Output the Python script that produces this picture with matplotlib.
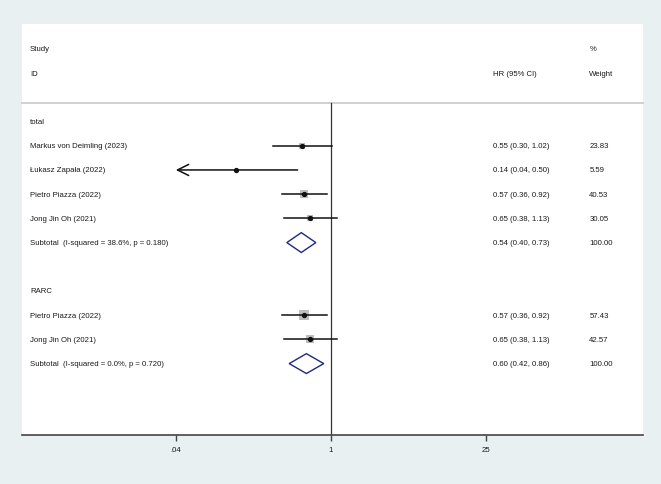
import numpy as np
import matplotlib.pyplot as plt
from matplotlib.patches import Polygon

plt.rcParams['font.family'] = ['Liberation Sans', 'DejaVu Sans']

# study rows
study_labels = ['Markus von Deimling (2023)', 'Łukasz Zapała (2022)', 'Pietro Piazza (2022)',
                'Jong Jin Oh (2021)', 'Pietro Piazza (2022)', 'Jong Jin Oh (2021)']
study_rows = [1, 2, 3, 4, 8, 9]
hr = [0.55, 0.14, 0.57, 0.65, 0.57, 0.65]
lo = [0.30, 0.04, 0.36, 0.38, 0.36, 0.38]
hi = [1.02, 0.50, 0.92, 1.13, 0.92, 1.13]
weights = [23.83, 5.59, 40.53, 30.05, 57.43, 42.57]

# subgroups
group_labels = ['total', 'RARC']
group_rows = [0, 7]
sub_labels = ['Subtotal  (I-squared = 38.6%, p = 0.180)', 'Subtotal  (I-squared = 0.0%, p = 0.720)']
sub_rows = [5, 10]
sub_hr = [0.54, 0.60]
sub_lo = [0.40, 0.42]
sub_hi = [0.73, 0.86]

xticks = [0.04, 1, 25]
xticklabels = ['.04', '1', '25']
xmin_clip = 0.04

W, H = 661, 485
fig = plt.figure(figsize=(W / 100, H / 100), dpi=100)
fig.patch.set_facecolor('#E8F0F2')
ax = fig.add_axes([22 / W, (H - 436) / H, (643 - 22) / W, (436 - 25) / H])
ax.set_facecolor('white')
ax.set_xscale('log')
ax.set_xlim(10 ** -2.784, 10 ** 2.811)
ax.set_ylim(12.95, -4.03)

for s in ['top', 'right', 'left']:
    ax.spines[s].set_visible(False)
ax.spines['bottom'].set_color('#444444')
ax.spines['bottom'].set_linewidth(1.2)
ax.set_yticks([])
ax.set_xticks(xticks)
ax.set_xticklabels(xticklabels)
ax.minorticks_off()
ax.tick_params(axis='x', length=4, width=1, color='#444444', labelsize=5.6, pad=4, labelcolor='#1A1A1A')

fs = 5.6
tc = '#1A1A1A'
trans = ax.get_yaxis_transform()  # x in axes fraction, y in data
x_lab, x_hr, x_w = 0.0129, 0.759, 0.9135

# header
ax.text(x_lab, -3, 'Study', transform=trans, fontsize=fs, color=tc, va='center')
ax.text(x_lab, -2, 'ID', transform=trans, fontsize=fs, color=tc, va='center')
ax.text(x_hr, -2, 'HR (95% CI)', transform=trans, fontsize=fs, color=tc, va='center')
ax.text(x_w, -3, '%', transform=trans, fontsize=fs, color=tc, va='center')
ax.text(x_w, -2, 'Weight', transform=trans, fontsize=fs, color=tc, va='center')
ax.plot([0, 1], [-0.76, -0.76], transform=trans, color='#C8C8C8', lw=1.2, clip_on=False)

# null line
ax.plot([1, 1], [-0.76, 12.95], color='#333333', lw=0.9)

for lab, r in zip(group_labels, group_rows):
    ax.text(x_lab, r, lab, transform=trans, fontsize=fs, color=tc, va='center')

for lab, r, m, l, h, w in zip(study_labels, study_rows, hr, lo, hi, weights):
    ax.text(x_lab, r, lab, transform=trans, fontsize=fs, color=tc, va='center')
    ax.text(x_hr, r, f'{m:.2f} ({l:.2f}, {h:.2f})', transform=trans, fontsize=fs, color=tc, va='center')
    ax.text(x_w, r, f'{w:.2f}', transform=trans, fontsize=fs, color=tc, va='center')
    # weight box, area proportional to weight
    side = 1.2 * np.sqrt(w) * 0.72
    ax.scatter([m], [r], marker='s', s=side ** 2, color='#BDBDBD', lw=0, zorder=2)
    if l <= xmin_clip:
        ax.annotate('', xy=(l, r), xytext=(h, r),
                    arrowprops=dict(arrowstyle='->,head_length=0.4,head_width=0.2',
                                    lw=1.1, color='#111111', mutation_scale=20,
                                    shrinkA=0, shrinkB=0), zorder=3)
    else:
        ax.plot([l, h], [r, r], color='#111111', lw=1.1, zorder=3)
    ax.plot([m], [r], 'o', color='#111111', ms=2.8, zorder=6)

for lab, r, m, l, h in zip(sub_labels, sub_rows, sub_hr, sub_lo, sub_hi):
    ax.text(x_lab, r, lab, transform=trans, fontsize=fs, color=tc, va='center')
    ax.text(x_hr, r, f'{m:.2f} ({l:.2f}, {h:.2f})', transform=trans, fontsize=fs, color=tc, va='center')
    ax.text(x_w, r, '100.00', transform=trans, fontsize=fs, color=tc, va='center')
    dia = Polygon([[l, r], [m, r - 0.41], [h, r], [m, r + 0.41]], closed=True,
                  fill=False, edgecolor='#1E2A80', lw=1.0, zorder=4)
    ax.add_patch(dia)

fig.savefig('out.png', dpi=100, facecolor=fig.get_facecolor())
